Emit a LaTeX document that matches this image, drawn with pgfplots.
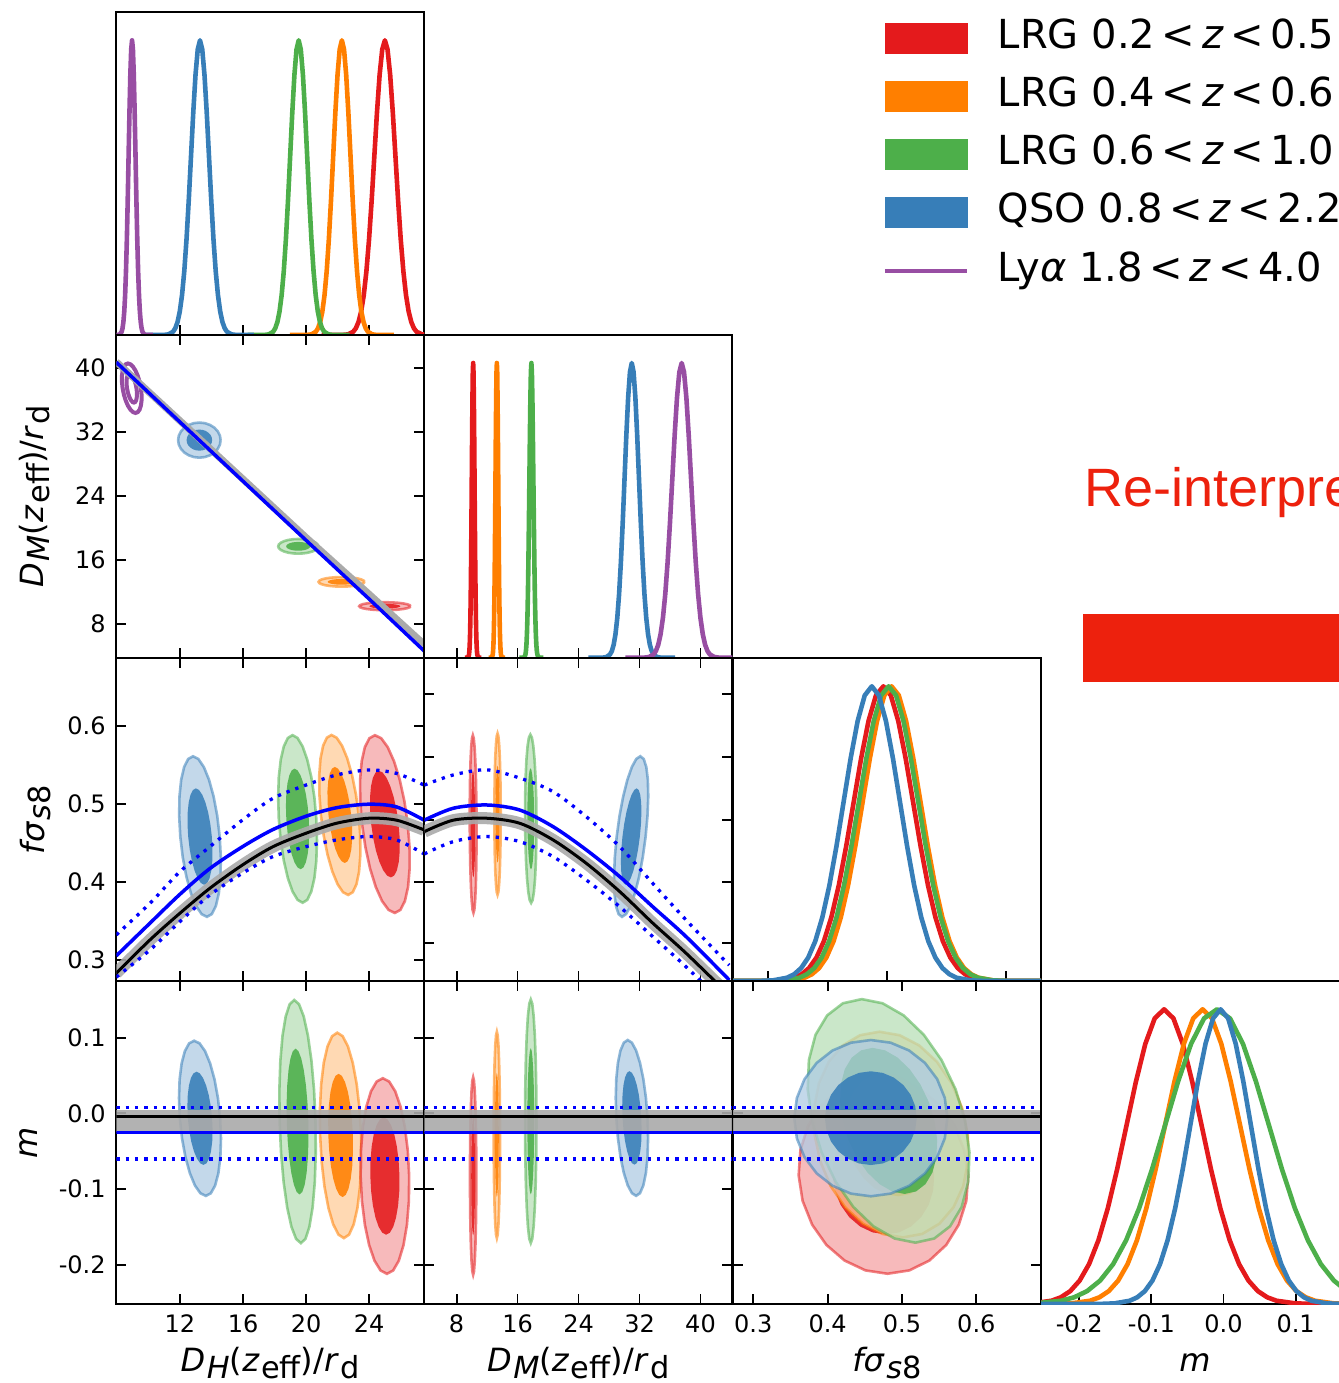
\documentclass[border=0pt]{standalone}
\usepackage{pgfplots}
\pgfplotsset{compat=1.18}
\usepackage{pgfplotstable}
\usepackage{fontspec}
\setmainfont{DejaVu Sans}
\newfontfamily\slidefont{Liberation Sans}

\definecolor{cR}{HTML}{E41A1C}
\definecolor{cO}{HTML}{FF7F00}
\definecolor{cG}{HTML}{4DAF4A}
\definecolor{cB}{HTML}{377EB8}
\definecolor{cP}{HTML}{984EA3}
\definecolor{slide}{RGB}{237,33,13}
\definecolor{pblue}{RGB}{0,0,255}
\definecolor{band}{RGB}{170,170,170}

\newcommand{\sbs}[1]{\kern0.05em\raisebox{-0.2em}{\scalebox{0.95}{#1}}}
\newcommand{\labDH}{\textit{D}\sbs{\textit{H}}(\textit{z}\sbs{eff})/\textit{r}\sbs{d}}
\newcommand{\labDM}{\textit{D}\sbs{\textit{M}}(\textit{z}\sbs{eff})/\textit{r}\sbs{d}}
\newcommand{\labFS}{\textit{fσ}\sbs{\textit{s}8}}
\newcommand{\labM}{\textit{m}}

% unit circle
\pgfplotstableread{
c s
1 0
0.9659 0.2588
0.8660 0.5
0.7071 0.7071
0.5 0.8660
0.2588 0.9659
0 1
-0.2588 0.9659
-0.5 0.8660
-0.7071 0.7071
-0.8660 0.5
-0.9659 0.2588
-1 0
-0.9659 -0.2588
-0.8660 -0.5
-0.7071 -0.7071
-0.5 -0.8660
-0.2588 -0.9659
0 -1
0.2588 -0.9659
0.5 -0.8660
0.7071 -0.7071
0.8660 -0.5
0.9659 -0.2588
1 0
}\circtab

% standard normal shape (peak 1)
\pgfplotstableread{
k g
-6 0
-4.5 0
-4 0.0003
-3.5 0.0022
-3 0.0111
-2.75 0.0228
-2.5 0.0439
-2.25 0.0796
-2 0.1353
-1.75 0.2163
-1.5 0.3247
-1.25 0.4578
-1 0.6065
-0.75 0.7548
-0.5 0.8825
-0.25 0.9692
0 1
0.25 0.9692
0.5 0.8825
0.75 0.7548
1 0.6065
1.25 0.4578
1.5 0.3247
1.75 0.2163
2 0.1353
2.25 0.0796
2.5 0.0439
2.75 0.0228
3 0.0111
3.5 0.0022
4 0.0003
4.5 0
6 0
}\gausstab

\def\oop{0.75}\def\iop{0.88}
\newcommand{\G}[3]{\addplot[#3, line width=2.3pt, line join=round] table[x expr={#1+(#2)*\thisrow{k}}, y=g] {\gausstab};}
\newcommand{\Ell}[6]{\addplot[#6] table[x expr={#1+(#3)*\thisrow{c}+(#5)*\thisrow{s}}, y expr={#2+(#4)*\thisrow{s}}] {\circtab};}
\newcommand{\Outer}[6]{\Ell{#1}{#2}{#3}{#4}{#5}{draw=#6, draw opacity=0.55, line width=1.3pt, fill=#6!40, fill opacity=\oop}}
\newcommand{\Inner}[6]{\Ell{#1}{#2}{0.6*#3}{0.6*#4}{0.6*#5}{draw=none, fill=#6, fill opacity=\iop}}
\newcommand{\Pair}[6]{\Outer{#1}{#2}{#3}{#4}{#5}{#6}\Inner{#1}{#2}{#3}{#4}{#5}{#6}}

\pgfplotsset{
  base/.style={scale only axis, width=154pt, height=161.5pt, anchor=north west,
    axis line style={line width=1pt}, every tick/.style={black, line width=0.9pt},
    major tick length=5pt, tick align=inside, scaled ticks=false,
    /pgf/number format/assume math mode=true,
    ticklabel style={font=\fontsize{12}{14}\selectfont},
    xticklabel style={anchor=base, yshift=-14.4pt, inner sep=0pt},
    yticklabel style={anchor=east, xshift=-5.15pt, inner sep=0pt},
    label style={font=\fontsize{16}{19}\selectfont},
    xlabel style={at={(axis description cs:0.5,-0.2095)}, anchor=base}},
  diag/.style={base, ymin=0, ymax=1.096, ytick=\empty, xtick pos=left},
  off/.style={base, xtick pos=both, ytick pos=both},
  nox/.style={xticklabels={}}, noy/.style={yticklabels={}},
  DHx/.style={xmin=7.96, xmax=27.5, xtick={12,16,20,24}},
  DMx/.style={xmin=3.76, xmax=44.17, xtick={8,16,24,32,40}},
  FSx/.style={xmin=0.2727, xmax=0.687, xtick={0.3,0.4,0.5,0.6},
     xticklabel style={/pgf/number format/fixed, /pgf/number format/fixed zerofill, /pgf/number format/precision=1}},
  Mx/.style={xmin=-0.253, xmax=0.174, xtick={-0.2,-0.1,0,0.1},
     xticklabel style={/pgf/number format/fixed, /pgf/number format/fixed zerofill, /pgf/number format/precision=1}},
  DMy/.style={ymin=3.75, ymax=44.2, ytick={8,16,24,32,40}},
  FSy/.style={ymin=0.2727, ymax=0.687, ytick={0.3,0.4,0.5,0.6},
     yticklabel style={/pgf/number format/fixed, /pgf/number format/fixed zerofill, /pgf/number format/precision=1}},
  My/.style={ymin=-0.252, ymax=0.175, ytick={-0.2,-0.1,0,0.1},
     yticklabel style={/pgf/number format/fixed, /pgf/number format/fixed zerofill, /pgf/number format/precision=1}},
  dotb/.style={pblue, line width=1.65pt, dash pattern=on 1.65pt off 3pt},
  solb/.style={pblue, line width=1.75pt},
  solk/.style={black, line width=1.5pt},
  bandk/.style={band, line width=6pt, opacity=0.9},
}

% horizontal model lines in the m rows: #1 = left end, #2 = right end (data units)
\newcommand{\Hlines}[2]{%
  \addplot[fill=band, draw=none, fill opacity=0.9] coordinates {(#1,-0.024) (#2,-0.024) (#2,0.0046) (#1,0.0046)} -- cycle;
  \addplot[solk] coordinates {(#1,-0.0043) (#2,-0.0043)};
  \addplot[solb] coordinates {(#1,-0.0255) (#2,-0.0255)};
  \addplot[dotb] coordinates {(#1,0.0076) (#2,0.0076)};
  \addplot[dotb] coordinates {(#1,-0.0601) (#2,-0.0601)};}

\begin{document}
\begin{tikzpicture}
\path[use as bounding box] (0pt,0pt) rectangle (669.5pt,-691.5pt);
\clip (0pt,0pt) rectangle (669.5pt,-691.5pt);

% ---------------- row 1 : D_H diagonal + legend
\begin{axis}[diag, DHx, nox, at={(58.15pt,-6pt)},
  legend style={at={(axis description cs:2.489,0.9745)}, anchor=north west, draw=none, fill=none,
    inner sep=0pt, outer sep=0pt, row sep=11.1pt, font=\fontsize{20}{23}\selectfont,
    nodes={inner sep=0pt, text height=14pt, text depth=4pt},
    /tikz/every odd column/.append style={column sep=14.5pt}},
  legend cell align=left]
\addlegendimage{legend image code/.code={\fill[cR] (0pt,-7.5pt) rectangle (41pt,7.5pt);}}
\addlegendentry{LRG 0.2\,<\,\textit{z}\,<\,0.5}
\addlegendimage{legend image code/.code={\fill[cO] (0pt,-7.5pt) rectangle (41pt,7.5pt);}}
\addlegendentry{LRG 0.4\,<\,\textit{z}\,<\,0.6}
\addlegendimage{legend image code/.code={\fill[cG] (0pt,-7.5pt) rectangle (41pt,7.5pt);}}
\addlegendentry{LRG 0.6\,<\,\textit{z}\,<\,1.0}
\addlegendimage{legend image code/.code={\fill[cB] (0pt,-7.5pt) rectangle (41pt,7.5pt);}}
\addlegendentry{QSO 0.8\,<\,\textit{z}\,<\,2.2}
\addlegendimage{legend image code/.code={\draw[cP, line width=2pt] (0pt,0pt) -- (41pt,0pt);}}
\addlegendentry{Ly\textit{α} 1.8\,<\,\textit{z}\,<\,4.0}
\G{25.0}{0.67}{cR}
\G{22.27}{0.55}{cO}
\G{19.53}{0.54}{cG}
\G{13.27}{0.57}{cB}
\G{8.96}{0.22}{cP}
\end{axis}

% ---------------- row 2
\begin{axis}[off, DHx, DMy, nox, at={(58.15pt,-167.35pt)}, ylabel={\labDM},
  ylabel style={at={(axis description cs:-0.237,0.5)}, anchor=base}]
\Pair{13.23}{31.0}{1.35}{2.2}{0}{cB}
\Pair{19.5}{17.7}{1.27}{0.92}{0}{cG}
\Pair{22.25}{13.25}{1.46}{0.6}{0}{cO}
\Pair{25.0}{10.2}{1.63}{0.5}{0}{cR}
\Ell{8.94}{37.5}{0.58}{3.1}{-0.24}{draw=cP, line width=2pt}
\Ell{8.94}{37.5}{0.3}{1.8}{-0.14}{draw=cP, line width=2pt}
\addplot[band, line width=3.5pt] coordinates {(7.96,40.8) (13.27,31.1) (20,18.8) (24,11.7) (27.5,5.4)};
\addplot[solb] coordinates {(7.96,40.75) (13.27,30.9) (20,18.45) (24,11.1) (27.5,4.58)};
\end{axis}

\begin{axis}[diag, DMx, nox, at={(212.15pt,-167.35pt)}]
\G{10.17}{0.18}{cR}
\G{13.28}{0.18}{cO}
\G{17.81}{0.26}{cG}
\G{30.98}{0.95}{cB}
\G{37.53}{1.23}{cP}
\end{axis}

% ---------------- row 3
\begin{axis}[off, DHx, FSy, nox, at={(58.15pt,-329pt)}, ylabel={\labFS},
  ylabel style={at={(axis description cs:-0.2347,0.5)}, anchor=base}]
\Pair{13.27}{0.458}{1.25}{0.103}{-0.44}{cB}
\Pair{19.46}{0.4806}{1.19}{0.1075}{-0.32}{cG}
\Pair{22.14}{0.4857}{1.2}{0.1026}{-0.53}{cO}
\Pair{25.0}{0.474}{1.45}{0.114}{-0.63}{cR}
\addplot[bandk, smooth] coordinates {(7.96,0.2828) (10.1,0.3255) (12.0,0.3597) (13.9,0.3917) (15.97,0.4216) (17.9,0.445) (19.99,0.4622) (21.94,0.4751) (23.98,0.4815) (25.74,0.479) (27.49,0.4665)};
\addplot[solk, smooth] coordinates {(7.96,0.2828) (10.1,0.3255) (12.0,0.3597) (13.9,0.3917) (15.97,0.4216) (17.9,0.445) (19.99,0.4622) (21.94,0.4751) (23.98,0.4815) (25.74,0.479) (27.49,0.4665)};
\addplot[solb, smooth] coordinates {(7.96,0.305) (10.1,0.347) (12.0,0.384) (13.9,0.417) (15.97,0.445) (17.9,0.467) (19.99,0.484) (21.94,0.495) (23.98,0.4995) (25.74,0.496) (27.49,0.479)};
\addplot[dotb, smooth] coordinates {(7.96,0.3319) (10.1,0.3725) (12.0,0.413) (13.9,0.445) (15.97,0.4793) (17.9,0.507) (19.99,0.524) (21.94,0.537) (23.98,0.5434) (25.74,0.539) (27.49,0.524)};
\addplot[dotb, smooth] coordinates {(7.96,0.2777) (10.1,0.3126) (12.0,0.349) (13.9,0.3831) (15.97,0.411) (17.9,0.4323) (19.99,0.445) (21.94,0.4537) (23.98,0.458) (25.74,0.4537) (27.49,0.4357)};
\end{axis}

\begin{axis}[off, DMx, nox, noy, ymin=0.2727, ymax=0.687, ytick={0.321,0.400,0.479,0.560,0.641}, at={(212.15pt,-329pt)}]
\Pair{10.17}{0.474}{0.45}{0.114}{-0.04}{cR}
\Pair{13.37}{0.4868}{0.42}{0.1036}{0}{cO}
\Pair{17.73}{0.4808}{0.75}{0.108}{-0.05}{cG}
\Pair{30.9}{0.458}{1.9}{0.103}{1.2}{cB}
\addplot[bandk, smooth] coordinates {(3.76,0.4643) (7.56,0.479) (11.93,0.4815) (16.29,0.475) (20.65,0.4537) (25.0,0.4238) (29.4,0.3874) (33.73,0.347) (38.1,0.3084) (43.77,0.2545)};
\addplot[solk, smooth] coordinates {(3.76,0.4643) (7.56,0.479) (11.93,0.4815) (16.29,0.475) (20.65,0.4537) (25.0,0.4238) (29.4,0.3874) (33.73,0.347) (38.1,0.3084) (43.77,0.2545)};
\addplot[solb, smooth] coordinates {(3.76,0.479) (7.56,0.4943) (11.93,0.4985) (16.29,0.492) (20.65,0.4707) (25.0,0.441) (29.4,0.4066) (33.73,0.368) (38.1,0.3297) (43.77,0.274)};
\addplot[dotb, smooth] coordinates {(3.76,0.524) (7.56,0.537) (11.93,0.5436) (16.29,0.533) (20.65,0.5156) (25.0,0.4835) (29.4,0.445) (33.73,0.398) (38.1,0.351) (43.77,0.293)};
\addplot[dotb, smooth] coordinates {(3.76,0.4357) (7.56,0.4515) (11.93,0.458) (16.29,0.4515) (20.65,0.4323) (25.0,0.4024) (29.4,0.368) (33.73,0.3297) (38.1,0.291) (43.77,0.237)};
\end{axis}

\begin{axis}[diag, FSx, nox, xtick={0.32,0.48,0.64}, at={(366.5pt,-329pt)}]
\G{0.475}{0.040}{cR}
\G{0.486}{0.039}{cO}
\G{0.482}{0.040}{cG}
\G{0.4594}{0.038}{cB}
\end{axis}

% ---------------- row 4
\begin{axis}[off, DHx, My, at={(58.15pt,-490.5pt)}, xlabel={\labDH}, ylabel={\labM},
  ylabel style={at={(axis description cs:-0.2565,0.5)}, anchor=base}]
\Pair{13.27}{-0.0065}{1.28}{0.1026}{-0.37}{cB}
\Pair{19.46}{-0.0108}{1.14}{0.1607}{-0.21}{cG}
\Pair{22.19}{-0.0291}{1.30}{0.1358}{-0.21}{cO}
\Pair{25.0}{-0.0828}{1.54}{0.1293}{-0.13}{cR}
\Hlines{7.96}{27.5}
\end{axis}

\begin{axis}[off, DMx, My, noy, at={(212.15pt,-490.5pt)}, xlabel={\labDM}]
\Pair{10.17}{-0.0828}{0.42}{0.1306}{0}{cR}
\Pair{13.28}{-0.0285}{0.42}{0.1365}{0}{cO}
\Pair{17.73}{-0.0104}{0.75}{0.161}{0}{cG}
\Pair{31.0}{-0.006}{2.05}{0.103}{-0.55}{cB}
\Hlines{3.76}{44.17}
\end{axis}

\begin{axis}[off, FSx, My, noy, ytick={-0.2,0}, at={(366.5pt,-490.5pt)}, xlabel={\labFS}]
\Pair{0.475}{-0.082}{0.114}{0.13}{-0.0056}{cR}
\Pair{0.4854}{-0.028}{0.103}{0.136}{-0.0157}{cO}
\Pair{0.482}{-0.0099}{0.103}{0.161}{-0.036}{cG}
\Pair{0.4581}{-0.0063}{0.103}{0.1033}{0}{cB}
\Hlines{0.2727}{0.687}
\end{axis}

\begin{axis}[diag, Mx, at={(520.5pt,-490.5pt)}, xlabel={\labM}]
\G{-0.0824}{0.052}{cR}
\G{-0.029}{0.052}{cO}
\G{-0.009}{0.072}{cG}
\G{-0.004}{0.042}{cB}
\end{axis}

% slide overlay
\node[anchor=base west, inner sep=0pt, text=slide, font=\fontsize{27}{30}\slidefont] at (542pt,-253.35pt) {Re-interpre};
\fill[slide] (541.65pt,-307pt) rectangle (700pt,-341.15pt);
\end{tikzpicture}
\end{document}
